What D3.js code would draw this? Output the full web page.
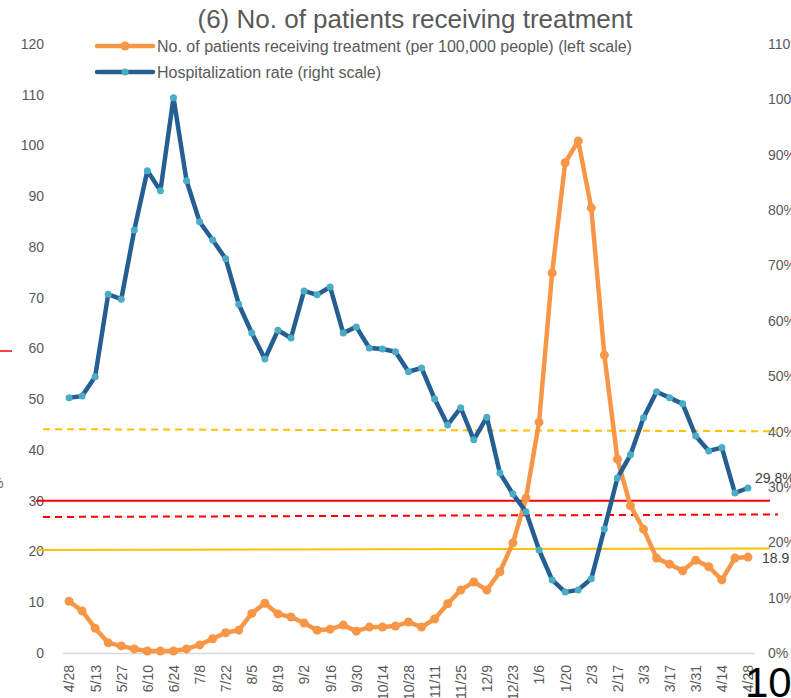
<!DOCTYPE html>
<html>
<head>
<meta charset="utf-8">
<script src="https://cdn.jsdelivr.net/npm/d3@7"></script>
<style>
  body { margin: 0; background: #fff; }
  svg { display: block; font-family: 'Liberation Sans', Arial, sans-serif; }
  .axis text { fill: #595959; font-size: 14px; }
  .axis path.domain { stroke: #d9d9d9; stroke-width: 1.5; }
</style>
</head>
<body>
<div id="chart"></div>
<script>
var weeks = ['4/28','5/6','5/13','5/20','5/27','6/3','6/10','6/17','6/24','7/1','7/8','7/15','7/22','7/29',
  '8/5','8/12','8/19','8/26','9/2','9/9','9/16','9/23','9/30','10/7','10/14','10/21','10/28','11/4',
  '11/11','11/18','11/25','12/2','12/9','12/16','12/23','12/30','1/6','1/13','1/20','1/27','2/3','2/10',
  '2/17','2/24','3/3','3/10','3/17','3/24','3/31','4/7','4/14','4/21','4/28'];

// patients receiving treatment per 100,000 (left scale)
var patients = [10.2, 8.3, 4.9, 2.0, 1.4, 0.8, 0.4, 0.4, 0.4, 0.8,
  1.6, 2.8, 4.0, 4.5, 7.8, 9.8, 7.7, 7.1, 5.9, 4.5,
  4.7, 5.5, 4.3, 5.1, 5.1, 5.3, 6.1, 5.1, 6.7, 9.7,
  12.4, 14.0, 12.4, 16.0, 21.7, 30.5, 45.5, 74.9, 96.6, 100.9,
  87.7, 58.7, 38.2, 29.0, 24.4, 18.7, 17.5, 16.2, 18.3, 17.0,
  14.4, 18.7, 18.9];

// hospitalization rate, % (right scale)
var hosp_rate = [46.1, 46.4, 49.9, 64.8, 63.9, 76.4, 87.1, 83.5, 100.3, 85.3,
  77.9, 74.6, 71.2, 63.0, 57.8, 53.1, 58.3, 56.9, 65.4, 64.7,
  66.1, 57.8, 58.9, 55.1, 54.9, 54.4, 50.8, 51.5, 45.9, 41.2,
  44.3, 38.5, 42.6, 32.5, 28.7, 25.5, 18.6, 13.2, 11.0, 11.4,
  13.4, 22.4, 31.6, 35.8, 42.5, 47.2, 46.1, 45.0, 39.2, 36.5,
  37.1, 28.9, 29.8];

var left_ticks = [0, 10, 20, 30, 40, 50, 60, 70, 80, 90, 100, 110, 120];
var right_ticks = [0, 10, 20, 30, 40, 50, 60, 70, 80, 90, 100, 110];

// threshold lines, left-scale values at start and end
var thresholds = [
  { from: 44.1, to: 43.7, color: '#ffc000', dash: '7,5' },
  { from: 30.0, to: 30.0, color: '#ff0000', dash: null },
  { from: 26.8, to: 27.3, color: '#ff0000', dash: '7,5' },
  { from: 20.3, to: 20.6, color: '#ffc000', dash: null }
];

var W = 791, H = 698;

var svg = d3.select('#chart').append('svg')
  .attr('width', W)
  .attr('height', H);

var x = d3.scalePoint()
  .domain(weeks.map((d, i) => i))
  .range([62.5, 754.5])
  .padding(0.5);

var yl = d3.scaleLinear().domain([0, 120]).range([653, 44]);
var yr = d3.scaleLinear().domain([0, 110]).range([653, 44]);

// title
svg.append('text')
  .attr('x', 415)
  .attr('y', 28)
  .attr('text-anchor', 'middle')
  .style('font-size', '26px')
  .style('fill', '#595959')
  .text('(6) No. of patients receiving treatment');

// bits of the neighbouring chart at the left edge
svg.append('line')
  .attr('x1', 0).attr('x2', 12)
  .attr('y1', 351).attr('y2', 351)
  .attr('stroke', '#ff0000')
  .attr('stroke-width', 1.5);

svg.append('text')
  .attr('x', -9)
  .attr('y', 488)
  .style('font-size', '14px')
  .style('fill', '#595959')
  .text('%');

// axes
svg.append('g')
  .attr('class', 'axis y-left')
  .attr('transform', 'translate(48,0)')
  .call(d3.axisLeft(yl).tickValues(left_ticks).tickSize(0).tickPadding(4))
  .call(g => g.select('.domain').remove());

svg.append('g')
  .attr('class', 'axis y-right')
  .attr('transform', 'translate(764,0)')
  .call(d3.axisRight(yr).tickValues(right_ticks).tickSize(0).tickPadding(4)
        .tickFormat(d => d + '%'))
  .call(g => g.select('.domain').remove());

var xa = svg.append('g')
  .attr('class', 'axis x-axis')
  .attr('transform', 'translate(0,653)')
  .call(d3.axisBottom(x)
        .tickValues(weeks.map((d, i) => i).filter(i => i % 2 == 0))
        .tickSize(0)
        .tickSizeOuter(0)
        .tickFormat(i => weeks[i]));

xa.selectAll('.tick text')
  .attr('text-anchor', 'end')
  .attr('transform', 'rotate(-90)')
  .attr('x', -12)
  .attr('y', 0)
  .attr('dy', '0.35em');

// threshold lines
thresholds.forEach(t => {
  svg.append('line')
    .attr('x1', t.dash ? 43 : 36)
    .attr('x2', t.dash ? 778 : 770)
    .attr('y1', yl(t.from))
    .attr('y2', yl(t.to))
    .attr('stroke', t.color)
    .attr('stroke-width', 2)
    .attr('stroke-dasharray', t.dash);
});

// series
var line_l = d3.line().x((d, i) => x(i)).y(d => yl(d));
var line_r = d3.line().x((d, i) => x(i)).y(d => yr(d));

svg.append('path')
  .datum(patients)
  .attr('fill', 'none')
  .attr('stroke', '#f79646')
  .attr('stroke-width', 4.5)
  .attr('stroke-linejoin', 'round')
  .attr('d', line_l);

svg.append('g').selectAll('circle')
  .data(patients)
  .join('circle')
  .attr('cx', (d, i) => x(i))
  .attr('cy', d => yl(d))
  .attr('r', 4.5)
  .attr('fill', '#f79646');

svg.append('path')
  .datum(hosp_rate)
  .attr('fill', 'none')
  .attr('stroke', '#255e91')
  .attr('stroke-width', 4.5)
  .attr('stroke-linejoin', 'round')
  .attr('d', line_r);

svg.append('g').selectAll('circle')
  .data(hosp_rate)
  .join('circle')
  .attr('cx', (d, i) => x(i))
  .attr('cy', d => yr(d))
  .attr('r', 3.5)
  .attr('fill', '#4bacc6');

// end labels
var last = weeks.length - 1;
svg.append('text')
  .attr('x', 755)
  .attr('y', yr(hosp_rate[last]) - 5)
  .style('font-size', '14px')
  .style('fill', '#404040')
  .text(hosp_rate[last].toFixed(1) + '%');

svg.append('text')
  .attr('x', 762)
  .attr('y', yl(patients[last]) + 6)
  .style('font-size', '14px')
  .style('fill', '#404040')
  .text(patients[last].toFixed(1));

// legend
var legend = [
  { label: 'No. of patients receiving treatment (per 100,000 people) (left scale)', line: '#f79646', dot: '#f79646', r: 4.5 },
  { label: 'Hospitalization rate (right scale)', line: '#255e91', dot: '#4bacc6', r: 3.5 }
];

legend.forEach((l, i) => {
  var g = svg.append('g').attr('transform', `translate(97, ${ 46 + i * 26 })`);
  g.append('line')
    .attr('x1', 0).attr('x2', 56)
    .attr('stroke', l.line)
    .attr('stroke-width', 4.5)
    .attr('stroke-linecap', 'round');
  g.append('circle')
    .attr('cx', 28)
    .attr('r', l.r)
    .attr('fill', l.dot);
  g.append('text')
    .attr('x', 60)
    .attr('dy', '0.35em')
    .style('font-size', '16px')
    .style('fill', '#595959')
    .text(l.label);
});

// page number
svg.append('text')
  .attr('x', 745)
  .attr('y', 697)
  .style('font-size', '42px')
  .style('fill', '#000')
  .text('10');
</script>
</body>
</html>
